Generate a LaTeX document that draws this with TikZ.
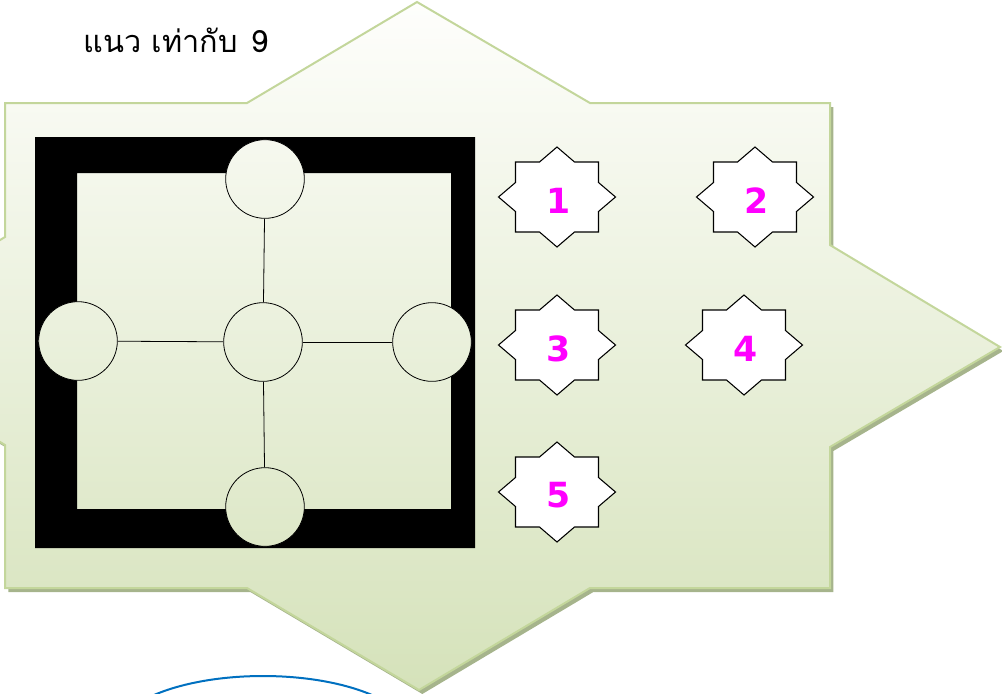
\documentclass[tikz,border=0pt]{standalone}
\usepackage{fontspec}
\usepackage{xcolor}
\usepackage{tikz}
\usetikzlibrary{backgrounds,shadows}
\newfontfamily\thaifont[Script=Thai]{Loma}
\newfontfamily\numfont{DejaVu Sans}
\pgfdeclarelayer{edgelayer}
\pgfdeclarelayer{nodelayer}
\pgfsetlayers{background,edgelayer,nodelayer,main}
\definecolor{leaf}{RGB}{195,214,155}
\definecolor{leafdark}{RGB}{166,180,140}
\definecolor{leaftop}{RGB}{254,254,252}
\definecolor{leafbot}{RGB}{213,226,186}
\definecolor{arcblue}{RGB}{0,112,192}
\definecolor{pinknum}{RGB}{255,0,255}
\tikzstyle{none}=[inner sep=0mm]
\tikzstyle{board}=[draw=leaf,line width=1.5pt,top color=leaftop,bottom color=leafbot,
	drop shadow={shadow xshift=2.5pt,shadow yshift=-3pt,fill=leafdark,opacity=1}]
\tikzstyle{frame}=[fill=black,even odd rule]
\tikzstyle{cn}=[circle,draw=black,line width=0.6pt,minimum size=59pt,inner sep=0pt,
	path picture={\shade[top color=leaftop,bottom color=leafbot] (gtop) rectangle (gbot);}]
\tikzstyle{sn}=[draw=black,line width=0.8pt,fill=white]
\tikzstyle{num}=[inner sep=0mm,text=pinknum,font=\numfont\bfseries\fontsize{26}{26}\selectfont]
\tikzstyle{title}=[inner sep=0mm,anchor=base west,font=\thaifont\fontsize{23}{23}\selectfont]
\tikzstyle{ring}=[draw=arcblue,line width=1.5pt]

\begin{document}
\begin{tikzpicture}[x=0.75pt,y=-0.75pt]
	\useasboundingbox (0,0) rectangle (1002,693);
	\coordinate (gtop) at (-165,2);
	\coordinate (gbot) at (1000,690);
	\begin{pgfonlayer}{background}
		\path[style=board] (5,103) -- (247,103) -- (417,2) -- (590,103) -- (830,103)
			-- (830,245) -- (1000,347) -- (830,447) -- (830,588) -- (590,588)
			-- (419,690) -- (247,588) -- (5,588) -- (5,445) -- (-165,341)
			-- (5,237) -- cycle;
		\path[style=frame] (35,137) rectangle (475,548) (77,173) rectangle (451,509);
	\end{pgfonlayer}
	\begin{pgfonlayer}{nodelayer}
		\node [style=cn] (t) at (265, 179) {};
		\node [style=cn] (l) at (78, 341) {};
		\node [style=cn] (c) at (263, 342) {};
		\node [style=cn] (r) at (432, 342) {};
		\node [style=cn] (b) at (265, 507) {};
	\end{pgfonlayer}
	\begin{pgfonlayer}{edgelayer}
		\draw[line width=0.6pt] (t) to (c);
		\draw[line width=0.6pt] (c) to (b);
		\draw[line width=0.6pt] (l) to (c);
		\draw[line width=0.6pt] (c) to (r);
	\end{pgfonlayer}
	% eight-point stars with the numbers
	\foreach \n/\x/\y in {1/557/197, 2/755/197, 3/557/345, 4/744/345, 5/557/492} {
		\draw[style=sn,shift={(\x,\y)}] (0,-50) -- (17.5,-35) -- (41.5,-35) -- (41.5,-14.5)
			-- (58.5,0) -- (41.5,14.5) -- (41.5,35) -- (17.5,35) -- (0,50) -- (-17.5,35)
			-- (-41.5,35) -- (-41.5,14.5) -- (-58.5,0) -- (-41.5,-14.5) -- (-41.5,-35)
			-- (-17.5,-35) -- cycle;
		\node [style=num] (n\n) at (\x+1.5, \y+3.5) {\n};
	}
	\node [style=title] (head) at (83, 52) {แนว เท่ากับ\hspace{0.45em}9};
	\draw[style=ring] (263, 736) ellipse [x radius=112pt, y radius=45pt];
\end{tikzpicture}
\end{document}
